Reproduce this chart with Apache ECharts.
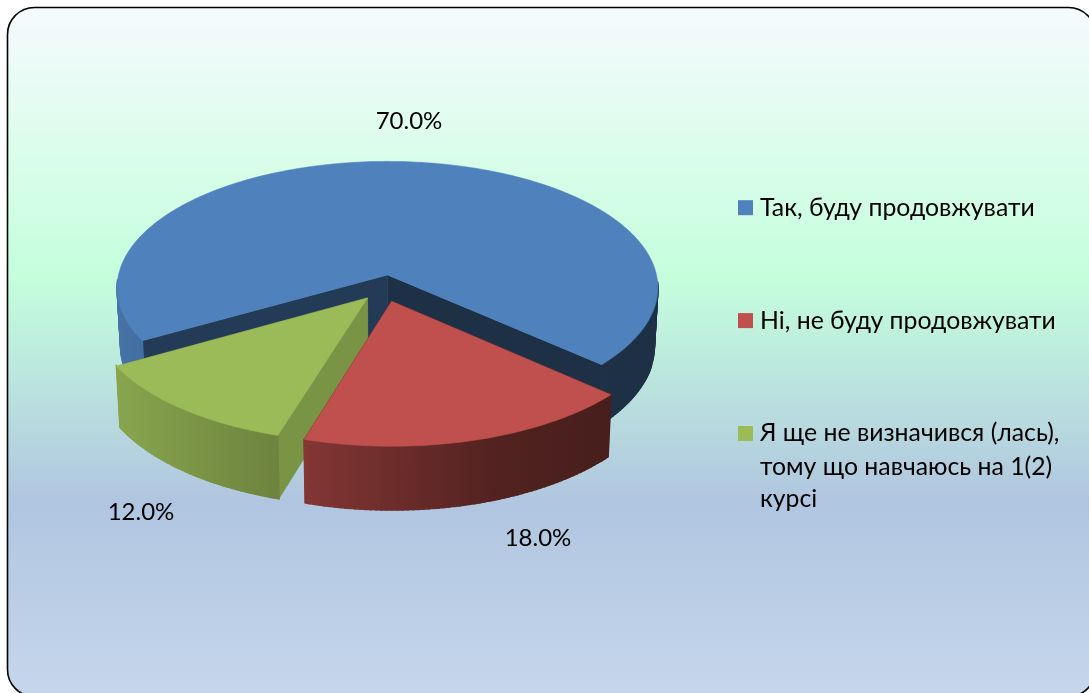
<!DOCTYPE html>
<html><head><meta charset="utf-8">
<style>html,body{margin:0;padding:0;background:#fff}#c{width:1089px;height:693px}</style>
<script src="https://cdn.jsdelivr.net/npm/echarts@6/dist/echarts.min.js"></script>
</head><body><div id="c"></div>
<script>
var categories = ['Так, буду продовжувати', 'Ні, не буду продовжувати', 'Я ще не визначився (лась),\nтому що навчаюсь на 1(2)\nкурсі'];
var values = [70, 18, 12];
var colors = ['#4f81bd', '#c0504d', '#9bbb59'];

// drawing layout of the 3D pie (a disc seen through a simple perspective)
var FONT = 'Lato, "Noto Sans", sans-serif';
var view = {cx: 387.5, cy: 275, rx: 269, ry: 125, k: 0.1, depth: 58, bottomScale: 0.987, startAngle: 150};
var explode = [[0, 0], [0.015, 0.205], [-0.073, 0.18]];
var zOrder = [2, 4, 3];
var labelAt = [[409, 121], [538, 538], [141, 512]];
var innerShade = [[0.37, 0.46], [0.4, 0.4], [0.79, 0.79]]; // [end wall, start wall]
var shadeStops = [[117, 0.88], [279, 0.70], [304, 0.68], [500, 0.42], [610, 0.37], [660, 0.37]];

function tint(hex, f) {
  var n = parseInt(hex.slice(1), 16);
  return 'rgb(' + [(n >> 16) & 255, (n >> 8) & 255, n & 255].map(function (c) { return Math.round(c * f); }).join(',') + ')';
}
function project(u, v, lower) {
  var w = 1 - view.k * v, s = lower ? view.bottomScale : 1;
  return [view.cx + s * view.rx * u / w, view.cy + s * view.ry * v / w + (lower ? view.depth / w : 0)];
}
var total = values.reduce(function (a, b) { return a + b; }, 0);

function sliceItem(index) {
  return function (params, api) {
    var value = api.value(0);
    var before = values.slice(0, index).reduce(function (a, b) { return a + b; }, 0);
    var a0 = view.startAngle + before / total * 360;
    var a1 = a0 + value / total * 360;
    var e = explode[index], color = colors[index];
    var at = function (deg, lower) {
      var r = deg * Math.PI / 180;
      return project(e[0] + Math.cos(r), e[1] + Math.sin(r), lower);
    };
    var hub = function (lower) { return project(e[0], e[1], lower); };
    var kids = [];
    var poly = function (pts, fill) {
      kids.push({type: 'polygon', shape: {points: pts}, style: {fill: fill, stroke: fill, lineWidth: 0.5}, silent: true});
    };
    // cut walls
    poly([hub(false), at(a1, false), at(a1, true), hub(true)], tint(color, innerShade[index][0]));
    poly([hub(false), at(a0, false), at(a0, true), hub(true)], tint(color, innerShade[index][1]));
    // outer wall (front half only): quads sharing one left-to-right gradient
    var x0 = shadeStops[0][0], x1 = shadeStops[shadeStops.length - 1][0];
    var wallFill = new echarts.graphic.LinearGradient(x0, 0, x1, 0, shadeStops.map(function (s) {
      return {offset: (s[0] - x0) / (x1 - x0), color: tint(color, s[1])};
    }), true);
    var upper = [];
    for (var t = a0; t < a1; t += 1) {
      upper.push(at(t, false));
      var t2 = Math.min(t + 1, a1);
      if (Math.sin(t * Math.PI / 180) > 0.05) {
        kids.push({
          type: 'polygon', silent: true,
          shape: {points: [at(t, false), at(t2, false), at(t2, true), at(t, true)]},
          style: {fill: wallFill, stroke: wallFill, lineWidth: 1.6}
        });
      }
    }
    upper.push(at(a1, false));
    // top face
    poly([hub(false)].concat(upper), color);
    // value label
    kids.push({
      type: 'text', silent: true, z2: 50,
      style: {
        text: value.toFixed(1) + '%', x: labelAt[index][0], y: labelAt[index][1],
        fill: '#000', font: '24px ' + FONT, align: 'center', verticalAlign: 'middle'
      }
    });
    return {type: 'group', children: kids};
  };
}

var extraLines = categories[2].split('\n').slice(1);
var chart = echarts.init(document.getElementById('c'), null, {renderer: 'canvas'});
chart.setOption({
  animation: false,
  backgroundColor: '#ffffff',
  legend: {
    orient: 'vertical', left: 738, top: 195.2, padding: 0,
    itemWidth: 15, itemHeight: 15, itemGap: 87.9, icon: 'rect',
    selectedMode: false,
    data: categories,
    formatter: function (n) { return n.split('\n')[0]; },
    textStyle: {fontFamily: FONT, fontSize: 24.8, color: '#000', padding: [0, 0, 0, 2]}
  },
  graphic: [
    {
      type: 'rect', z: -10, silent: true,
      shape: {x: 7.5, y: 7.5, width: 1088, height: 689, r: 27},
      style: {
        stroke: '#000', lineWidth: 1.6,
        fill: new echarts.graphic.LinearGradient(0, 0, 0, 1, [
          {offset: 0, color: '#f6fafe'},
          {offset: 0.39, color: '#c4ffdc'},
          {offset: 0.72, color: '#b0c5e0'},
          {offset: 1, color: '#c6d7ec'}
        ])
      }
    },
    {type: 'text', z: 10, silent: true, style: {text: extraLines[0], x: 760, y: 467, fill: '#000', font: '24.8px ' + FONT, verticalAlign: 'middle'}},
    {type: 'text', z: 10, silent: true, style: {text: extraLines[1], x: 760, y: 499, fill: '#000', font: '24.8px ' + FONT, verticalAlign: 'middle'}}
  ],
  series: categories.map(function (name, i) {
    return {
      type: 'custom', name: name, coordinateSystem: 'none', z: zOrder[i],
      itemStyle: {color: colors[i]}, silent: true,
      data: [[values[i]]],
      renderItem: sliceItem(i)
    };
  })
});
</script></body></html>
